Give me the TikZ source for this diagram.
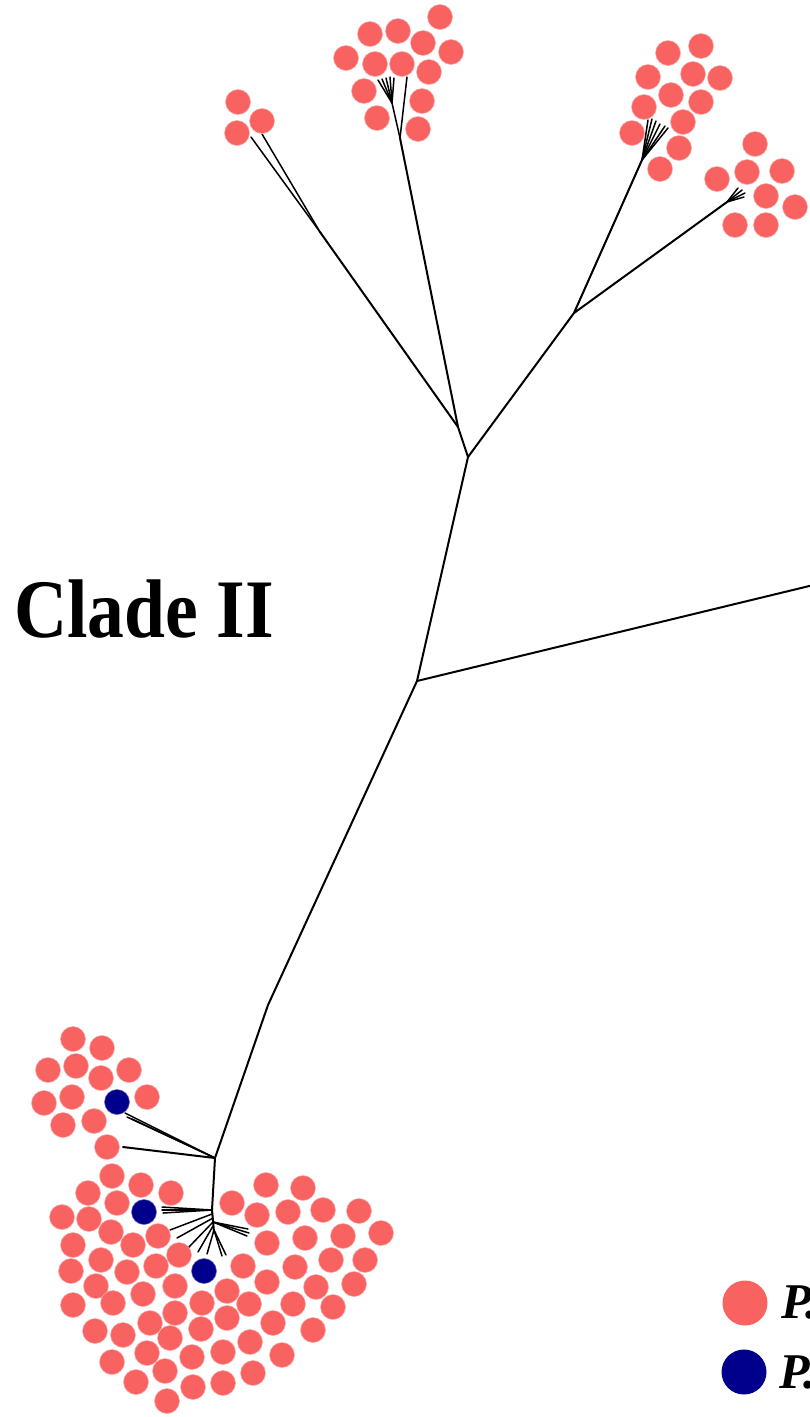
\documentclass[tikz,border=0pt]{standalone}
\usepackage{fontspec}
\setmainfont{Liberation Serif}
\definecolor{cred}{RGB}{248,99,97}
\definecolor{cblue}{RGB}{0,0,140}
\begin{document}
\begin{tikzpicture}[x=1pt,y=-1pt,
  rc/.style={circle,fill=cred,draw=cred!55!white,line width=0.5pt,minimum size=25pt,inner sep=0pt},
  bc/.style={rc,fill=cblue,draw=cblue!60!white},
  br/.style={line width=2pt,black,line cap=round,line join=round},
  fan/.style={line width=1.5pt,black,line cap=round},
  lgc/.style={circle,minimum size=45pt,inner sep=0pt}]
\useasboundingbox (0,0) rectangle (810,1417);
\fill[white] (0,0) rectangle (810,1417);

% ---- tree junctions ----
\coordinate (J1) at (458,427);
\coordinate (J2) at (468,457);
\coordinate (J3) at (574,313);
\coordinate (J4) at (417,681);
\coordinate (Bd) at (268,1005);
\coordinate (J5) at (215,1158);
\coordinate (J6) at (212,1210);
\coordinate (SE) at (214,1232);
\coordinate (offR) at (830,581);
\coordinate (TLa) at (320,232);
\coordinate (TMa) at (400,138);
\coordinate (TMb) at (392,103);
\coordinate (TRa) at (642,160);
\coordinate (TRb) at (727,202);

% ---- main branches ----
\draw[br] (J1) -- (J2) -- (J4) -- (Bd) -- (J5) -- (J6) -- (SE);
\draw[br] (J2) -- (J3);
\draw[br] (J4) -- (offR);
\draw[br] (J1) -- (TLa);
\draw[br] (J1) -- (TMa);
\draw[br] (J3) -- (TRa);
\draw[br] (J3) -- (TRb);

% top-left small clade
\coordinate (t1) at (251,137);
\coordinate (t2) at (262,134);
\draw[fan] (TLa) -- (t1);
\draw[fan] (TLa) -- (t2);

% top-middle clade
\coordinate (t3) at (407,77);
\draw[fan] (TMa) -- (t3);
\draw[fan] (TMa) -- (TMb);
\foreach \x/\y [count=\i] in {378/80,382/79,386/78,390/77,394/78}{
  \coordinate (tm\i) at (\x,\y);
  \draw[fan] (TMb) -- (tm\i);
}

% top-right clade A
\foreach \x/\y [count=\i] in {648/120,652/119,656/121,660/124,665/126,668/128}{
  \coordinate (ta\i) at (\x,\y);
  \draw[fan] (TRa) -- (ta\i);
}
% top-right clade B
\foreach \x/\y [count=\i] in {738/188,742/190,745/193,744/197}{
  \coordinate (tb\i) at (\x,\y);
  \draw[fan] (TRb) -- (tb\i);
}

% bottom clade lines
\foreach \x/\y [count=\i] in {125/1113,127/1117,132/1119}{
  \coordinate (ua\i) at (\x,\y);
  \draw[fan] (J5) -- (ua\i);
}
\coordinate (ub) at (123,1147);
\draw[br] (J5) -- (ub);
\foreach \x/\y [count=\i] in {162/1207,162/1210,163/1213}{
  \coordinate (la\i) at (\x,\y);
  \draw[fan] (J6) -- (la\i);
}
\coordinate (s1) at (212,1214);
\coordinate (s2) at (213,1218);
\coordinate (s3) at (213,1222);
\coordinate (s4) at (213,1226);
\coordinate (s5) at (214,1230);
\coordinate (e1) at (170,1230);
\coordinate (e2) at (177,1238);
\coordinate (e3) at (188,1248);
\coordinate (e4) at (198,1252);
\coordinate (e5) at (207,1254);
\draw[fan] (s1) -- (e1);
\draw[fan] (s2) -- (e2);
\draw[fan] (s3) -- (e3);
\draw[fan] (s4) -- (e4);
\draw[fan] (s5) -- (e5);
\foreach \x/\y [count=\i] in {222/1256,226/1255}{
  \coordinate (g\i) at (\x,\y);
  \draw[fan] (s5) -- (g\i);
}
\foreach \x/\y [count=\i] in {248/1229,249/1233,247/1236}{
  \coordinate (h\i) at (\x,\y);
  \draw[fan] (s3) -- (h\i);
}

% ---- leaves: top-left ----
\foreach \x/\y [count=\i] in {238/102,262/121,237/133}{
  \node[rc] (L\i) at (\x,\y) {};
}
% top-middle
\foreach \x/\y [count=\i] in {440/17,370/34,398/31,423/43,451/52,346/58,375/64,402/64,429/72,364/91,422/101,377/118,418/129}{
  \node[rc] (M\i) at (\x,\y) {};
}
% top-right A
\foreach \x/\y [count=\i] in {668/53,701/46,648/77,693/74,720/78,671/95,701/102,644/107,683/122,632/133,679/148,660/169}{
  \node[rc] (A\i) at (\x,\y) {};
}
% top-right B
\foreach \x/\y [count=\i] in {755/144,747/172,782/171,717/179,766/196,795/207,735/225,766/225}{
  \node[rc] (B\i) at (\x,\y) {};
}
% bottom upper group
\foreach \x/\y [count=\i] in {73/1039,102/1048,48/1070,76/1066,101/1078,129/1070,44/1103,72/1097,147/1097,63/1125,94/1121,107/1147}{
  \node[rc] (U\i) at (\x,\y) {};
}
% bottom main group
\foreach \x/\y [count=\i] in {112/1176,141/1185,171/1193,88/1193,117/1203,62/1217,89/1219,
  111/1232,158/1236,73/1245,133/1245,179/1255,101/1260,71/1271,127/1272,156/1266,
  96/1286,175/1286,143/1294,73/1305,113/1303,202/1303,227/1291,175/1313,150/1323,
  95/1331,123/1335,201/1329,227/1318,170/1338,249/1304,192/1357,223/1352,147/1353,
  250/1342,112/1362,165/1371,136/1382,193/1387,223/1383,253/1373,167/1401,282/1355,
  273/1323,293/1304,313/1330,267/1282,243/1266,295/1267,316/1287,333/1307,354/1284,
  365/1260,331/1260,305/1238,343/1236,381/1233,359/1211,323/1210,288/1212,257/1215,
  232/1203,266/1185,303/1188,267/1243}{
  \node[rc] (P\i) at (\x,\y) {};
}
\node[bc] (b1) at (117,1102) {};
\node[bc] (b2) at (144,1212) {};
\node[bc] (b3) at (204,1271) {};

% ---- label ----
\node[anchor=base west,inner sep=0pt,xscale=0.92,yscale=1.04] (clade) at (14,637)
  {\fontsize{80}{80}\selectfont\bfseries Clade II};

% ---- legend ----
\node[lgc,fill=cred] (lg1) at (745,1303) {};
\node[lgc,fill=cblue] (lg2) at (744,1372) {};
\node[anchor=base west,inner sep=0pt] (lt1) at (781,1318)
  {\fontsize{50}{50}\selectfont\bfseries\itshape P.};
\node[anchor=base west,inner sep=0pt] (lt2) at (779,1388)
  {\fontsize{50}{50}\selectfont\bfseries\itshape P.};
\end{tikzpicture}
\end{document}
